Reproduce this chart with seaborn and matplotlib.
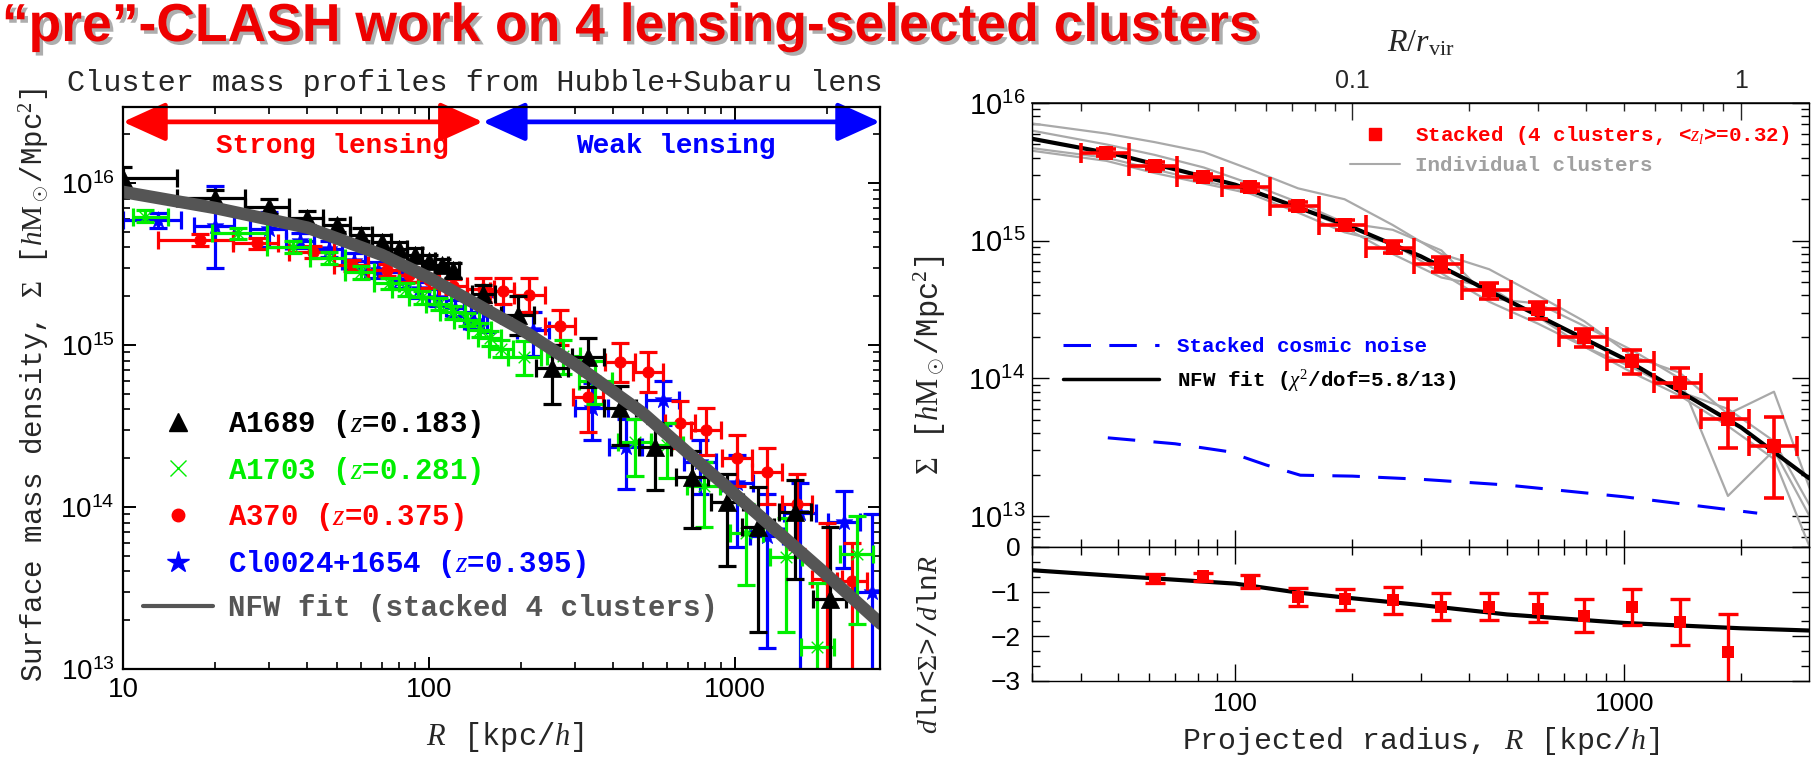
import numpy as np
import matplotlib
matplotlib.use("Agg")
import matplotlib.pyplot as plt
import seaborn as sns
from matplotlib.patches import FancyArrowPatch
from matplotlib.lines import Line2D
import matplotlib.patheffects as pe
from matplotlib.ticker import NullFormatter, LogLocator, MultipleLocator

# ---------------- LEFT PANEL DATA (R [kpc/h], Sigma [h Msun/Mpc^2]) ----------------
a1689_r   = [10, 20, 30, 40, 50, 60, 70, 80, 90, 100, 110, 120, 150, 195, 252, 331, 421, 548, 723, 942, 1190, 1570, 2040]
a1689_s   = [1.07e16, 8.1e15, 7.1e15, 6.1e15, 5.5e15, 4.8e15, 4.3e15, 3.9e15, 3.6e15, 3.3e15, 3.1e15, 2.9e15, 2.05e15,
             1.53e15, 7.2e14, 8.4e14, 4.1e14, 2.35e14, 1.53e14, 1.08e14, 7.5e13, 9.3e13, 2.7e13]
a1689_rlo = [7, 15, 25, 35, 45, 55, 65, 75, 85, 95, 105, 115, 138, 172, 223, 293, 373, 485, 640, 834, 1053, 1390, 1805]
a1689_rhi = [15, 25, 35, 45, 55, 65, 75, 85, 95, 105, 115, 125, 165, 220, 285, 374, 476, 620, 817, 1064, 1345, 1774, 2305]
a1689_slo = [9.2e15, 7.3e15, 6.4e15, 5.5e15, 5.0e15, 4.35e15, 3.9e15, 3.55e15, 3.25e15, 3.0e15, 2.8e15, 2.6e15, 1.75e15,
             1.15e15, 4.3e14, 5.5e14, 2.4e14, 1.28e14, 7.4e13, 4.3e13, 1.7e13, 3.6e13, 5e12]
a1689_shi = [1.25e16, 9.0e15, 7.9e15, 6.7e15, 6.0e15, 5.3e15, 4.75e15, 4.3e15, 3.95e15, 3.6e15, 3.4e15, 3.2e15, 2.35e15,
             2.0e15, 1.0e15, 1.1e15, 5.6e14, 3.3e14, 2.2e14, 1.6e14, 1.33e14, 1.46e14, 7.5e13]

a1703_r   = [11.8, 23.8, 36, 47, 60, 74, 84, 95, 108, 120, 133, 147, 158, 172,
             205, 275, 350, 470, 600, 790, 1090, 1470, 1860, 2500]
a1703_s   = [6.2e15, 4.9e15, 4.0e15, 3.45e15, 2.8e15, 2.4e15, 2.2e15, 1.98e15, 1.8e15, 1.6e15, 1.43e15, 1.24e15, 1.1e15, 9.5e14,
             8.4e14, 8.5e14, 6.0e14, 2.5e14, 2.4e14, 1.35e14, 6.9e13, 4.9e13, 1.37e13, 5.1e13]
a1703_rlo = [10.8, 19.5, 29.5, 41, 53, 66, 76, 86, 98, 109, 121, 134, 145, 157,
             181, 243, 310, 416, 531, 699, 965, 1301, 1646, 2212]
a1703_rhi = [14, 29.5, 41, 53, 66, 80, 92, 104, 118, 131, 146, 160, 172, 188,
             232, 311, 396, 531, 678, 893, 1232, 1661, 2102, 2825]
a1703_slo = [5.7e15, 4.5e15, 3.7e15, 3.15e15, 2.55e15, 2.2e15, 2.0e15, 1.8e15, 1.65e15, 1.45e15, 1.3e15, 1.12e15, 9.8e14, 8.4e14,
             6.5e14, 6.6e14, 4.3e14, 1.55e14, 1.5e14, 7.5e13, 3.3e13, 1.7e13, 5e12, 1.9e13]
a1703_shi = [6.8e15, 5.3e15, 4.35e15, 3.75e15, 3.05e15, 2.6e15, 2.4e15, 2.15e15, 1.95e15, 1.75e15, 1.57e15, 1.37e15, 1.22e15, 1.07e15,
             1.05e15, 1.08e15, 8.0e14, 3.5e14, 3.3e14, 1.9e14, 1.05e14, 8.5e13, 3.4e13, 8.8e13]

a370_r   = [17.9, 27.4, 41.7, 56, 72.8, 86, 100, 120, 150, 174,
            213, 268, 330, 420, 520, 660, 805, 1015, 1270, 1590, 2000, 2420]
a370_s   = [4.45e15, 4.25e15, 3.75e15, 3.1e15, 2.9e15, 2.7e15, 2.5e15, 2.3e15, 2.2e15, 2.15e15,
            2.04e15, 1.3e15, 4.8e14, 7.9e14, 6.8e14, 3.3e14, 3.0e14, 2.0e14, 1.64e14, 1.05e14, 3.6e13, 3.5e13]
a370_rlo = [13, 22.8, 35, 49, 63, 80, 92, 108, 133, 158,
            190, 239, 295, 375, 464, 589, 719, 906, 1134, 1420, 1786, 2160]
a370_rhi = [22.8, 32, 49, 63, 80, 92, 108, 133, 163, 190,
            239, 300, 370, 470, 582, 739, 902, 1137, 1422, 1781, 2240, 2710]
a370_slo = [4.1e15, 3.9e15, 3.45e15, 2.85e15, 2.65e15, 2.45e15, 2.25e15, 2.05e15, 1.85e15, 1.8e15,
            1.6e15, 1.0e15, 2.9e14, 5.9e14, 5.1e14, 2.3e14, 2.1e14, 1.35e14, 1.05e14, 5.5e13, 5e12, 5e12]
a370_shi = [4.85e15, 4.6e15, 4.05e15, 3.35e15, 3.15e15, 2.95e15, 2.75e15, 2.55e15, 2.6e15, 2.6e15,
            2.6e15, 1.65e15, 6.5e14, 1.03e15, 9.0e14, 4.5e14, 4.1e14, 2.8e14, 2.3e14, 1.6e14, 8e13, 6e13]

cl0024_r   = [13, 20, 30, 38, 47, 57, 68, 80, 93, 107, 122, 140,
              155, 219, 340, 440, 580, 770, 1015, 1270, 1630, 2270, 2800]
cl0024_s   = [5.9e15, 5.4e15, 5.2e15, 4.4e15, 3.9e15, 3.3e15, 2.9e15, 2.5e15, 2.2e15, 1.95e15, 1.7e15, 1.4e15,
              1.6e15, 1.24e15, 4.1e14, 2.35e14, 4.6e14, 1.9e14, 1.4e14, 6.6e13, 9.2e13, 8.1e13, 3e13]
cl0024_rlo = [10, 17, 26, 34, 42, 52, 62, 74, 86, 100, 114, 130,
              137, 194, 301, 389, 513, 681, 898, 1124, 1442, 2009, 2478]
cl0024_rhi = [15.5, 23, 34, 42, 52, 62, 74, 86, 100, 114, 130, 150,
              175, 247, 384, 497, 655, 870, 1147, 1435, 1842, 2565, 3164]
cl0024_slo = [5.3e15, 3.0e15, 4.0e15, 3.95e15, 3.5e15, 2.95e15, 2.6e15, 2.25e15, 1.95e15, 1.75e15, 1.5e15, 1.25e15,
              1.2e15, 8.5e14, 2.6e14, 1.3e14, 3.2e14, 1.2e14, 5.7e13, 1.35e13, 5e12, 4.2e13, 5e12]
cl0024_shi = [6.5e15, 9.5e15, 6.6e15, 4.9e15, 4.35e15, 3.7e15, 3.25e15, 2.8e15, 2.45e15, 2.2e15, 1.9e15, 1.6e15,
              2.0e15, 1.6e15, 5.8e14, 3.5e14, 6.0e14, 2.6e14, 2.1e14, 1.2e14, 1.4e14, 1.25e14, 9e13]

# NFW fit to stacked profile (left)
nfw_left_r = [10, 20, 40, 70, 100, 200, 300, 500, 1000, 2000, 3000]
nfw_left_s = [8.8e15, 7.0e15, 5.3e15, 3.6e15, 2.6e15, 1.25e15, 7.6e14, 3.8e14, 1.2e14, 3.8e13, 1.9e13]

# ---------------- RIGHT PANEL DATA ----------------
stack_r   = [46.6, 62.1, 82.6, 109, 145, 191, 254, 339, 450, 600, 790, 1050, 1390, 1850, 2430]
stack_s   = [4.33e15, 3.48e15, 2.9e15, 2.45e15, 1.78e15, 1.3e15, 8.9e14, 6.74e14, 4.36e14, 3.17e14, 2.0e14, 1.33e14, 9.3e13, 5.1e13, 3.25e13]
stack_slo = [4.1e15, 3.3e15, 2.75e15, 2.3e15, 1.68e15, 1.2e15, 8.1e14, 5.9e14, 3.8e14, 2.7e14, 1.68e14, 1.07e14, 7.3e13, 3.1e13, 1.35e13]
stack_shi = [4.6e15, 3.7e15, 3.05e15, 2.6e15, 1.9e15, 1.42e15, 1.0e15, 7.6e14, 4.9e14, 3.6e14, 2.3e14, 1.6e14, 1.18e14, 7.1e13, 5.2e13]
stack_edges = [40.0, 53.2, 70.6, 92.7, 123, 164, 217, 288, 382, 511, 680, 902, 1191, 1580, 2090, 2790]

indiv_r  = [30, 46.6, 62, 83, 109, 145, 191, 254, 339, 450, 600, 790, 1050, 1390, 1850, 2430, 3000]
indiv_1  = [7.1e15, 6.0e15, 5.2e15, 4.4e15, 3.3e15, 2.4e15, 2.0e15, 1.3e15, 8.0e14, 6.2e14, 4.0e14, 2.6e14, 1.45e14, 1.1e14, 5.5e13, 8.0e13, 1.6e13]
indiv_2  = [6.3e15, 5.0e15, 4.2e15, 3.4e15, 2.6e15, 1.9e15, 1.35e15, 1.2e15, 8.5e14, 3.8e14, 3.5e14, 2.4e14, 1.6e14, 1.0e14, 1.4e13, 3.0e13, 1.0e13]
indiv_3  = [4.7e15, 4.0e15, 3.3e15, 2.7e15, 2.3e15, 1.75e15, 1.25e15, 8.0e14, 5.4e14, 4.6e14, 2.8e14, 1.7e14, 1.2e14, 8.0e13, 6.0e13, 3.5e13, 1.2e13]
indiv_4  = [4.5e15, 3.8e15, 3.1e15, 2.6e15, 2.2e15, 1.6e15, 1.15e15, 9.5e14, 5.8e14, 3.6e14, 2.5e14, 1.7e14, 1.1e14, 7.5e13, 4.5e13, 2.6e13, 6e12]

noise_r = [47, 70, 95, 120, 147, 200, 300, 500, 1000, 2200]
noise_s = [3.7e13, 3.35e13, 2.95e13, 2.35e13, 1.98e13, 1.95e13, 1.85e13, 1.68e13, 1.38e13, 1.05e13]

nfw_right_r = [30, 50, 100, 200, 300, 500, 1000, 2000, 3000]
nfw_right_s = [5.5e15, 4.2e15, 2.55e15, 1.25e15, 7.7e14, 3.7e14, 1.39e14, 4.4e13, 1.87e13]

slope_r   = [62.1, 82.6, 109, 145, 191, 254, 339, 450, 600, 790, 1050, 1390, 1850]
slope_v   = [-0.71, -0.66, -0.78, -1.11, -1.17, -1.19, -1.34, -1.34, -1.38, -1.55, -1.34, -1.67, -2.34]
slope_lo  = [-0.80, -0.76, -0.91, -1.32, -1.42, -1.51, -1.64, -1.64, -1.67, -1.90, -1.75, -2.20, -3.2]
slope_hi  = [-0.61, -0.58, -0.63, -0.91, -0.93, -0.90, -1.03, -1.03, -1.03, -1.17, -0.95, -1.16, -1.50]
slope_fit_r = [30, 50, 100, 145, 191, 300, 500, 1000, 2000, 3000]
slope_fit_v = [-0.52, -0.65, -0.82, -1.02, -1.13, -1.30, -1.51, -1.70, -1.82, -1.87]

r_vir = 2000.0  # kpc/h, for the R/r_vir top axis

# ---------------- STYLE ----------------
sns.set_theme(style="ticks")
plt.rcParams.update({
    "mathtext.fontset": "custom",
    "mathtext.rm": "Liberation Serif",
    "mathtext.it": "Liberation Serif:italic",
    "mathtext.bf": "Liberation Serif:bold",
    "mathtext.sf": "Liberation Sans",
    "xtick.direction": "in", "ytick.direction": "in",
    "xtick.top": True, "ytick.right": True,
    "axes.facecolor": "white", "figure.facecolor": "white",
})
plt.rcParams["font.family"] = ["Liberation Mono", "DejaVu Sans"]

MONO = ["Liberation Mono", "DejaVu Sans"]
SANS = ["Liberation Sans", "DejaVu Sans"]
BLACK, GREEN, RED, BLUE = "#000000", "#00ee00", "#ff0000", "#0000ff"
NFWGREY = "#555555"

fig = plt.figure(figsize=(18.12, 7.6), dpi=100)

W, H = 1812.0, 760.0
def fpos(x0, y0, x1, y1):
    return [x0 / W, 1 - y1 / H, (x1 - x0) / W, (y1 - y0) / H]

axL = fig.add_axes(fpos(123, 107, 880, 669))
axT = fig.add_axes(fpos(1032, 103, 1809, 547))
axB = fig.add_axes(fpos(1032, 547, 1809, 681), sharex=axT)

SIGLAB = [r"$\mathsf{10^{13}}$", r"$\mathsf{10^{14}}$", r"$\mathsf{10^{15}}$", r"$\mathsf{10^{16}}$"]

# ---------------- LEFT PANEL ----------------
axL.set_xscale("log"); axL.set_yscale("log")
axL.set_xlim(10, 2980); axL.set_ylim(1e13, 2.94e16)

def draw_cluster(ax, r, s, rlo, rhi, slo, shi, color, marker, size, lw, z):
    r = np.asarray(r, float); s = np.asarray(s, float)
    xe = [r - np.asarray(rlo), np.asarray(rhi) - r]
    ye = [s - np.asarray(slo), np.asarray(shi) - s]
    ax.errorbar(r, s, xerr=xe, yerr=ye, fmt="none", ecolor=color, elinewidth=2.3,
                capsize=6.5, capthick=2.3, zorder=z)
    if marker in ("x", "+"):
        sns.scatterplot(x=r, y=s, ax=ax, marker=marker, color=color, s=size,
                        linewidth=lw, zorder=z + 0.5, legend=False)
    else:
        sns.scatterplot(x=r, y=s, ax=ax, marker=marker, color=color, s=size,
                        edgecolor=color, linewidth=lw, zorder=z + 0.5, legend=False)

draw_cluster(axL, cl0024_r, cl0024_s, cl0024_rlo, cl0024_rhi, cl0024_slo, cl0024_shi, BLUE, "*", 160, 0.5, 2)
draw_cluster(axL, a370_r, a370_s, a370_rlo, a370_rhi, a370_slo, a370_shi, RED, "o", 70, 0.5, 3)
draw_cluster(axL, a1703_r, a1703_s, a1703_rlo, a1703_rhi, a1703_slo, a1703_shi, GREEN, "x", 70, 1.0, 4)
draw_cluster(axL, a1689_r, a1689_s, a1689_rlo, a1689_rhi, a1689_slo, a1689_shi, BLACK, "^", 170, 0.5, 5)

sns.lineplot(x=nfw_left_r, y=nfw_left_s, ax=axL, color=NFWGREY, linewidth=9,
             sort=False, estimator=None, zorder=8, legend=False)

for sp in axL.spines.values():
    sp.set_linewidth(1.6); sp.set_color("black"); sp.set_zorder(20)
axL.tick_params(which="major", length=9, width=1.4, colors="black", labelsize=20, pad=6)
axL.tick_params(which="minor", length=5, width=1.2, colors="black")
axL.set_xticks([10, 100, 1000])
axL.set_xticklabels(["10", "100", "1000"], family=SANS)
axL.set_yticks([1e13, 1e14, 1e15, 1e16])
axL.set_yticklabels(SIGLAB)
axL.xaxis.set_minor_locator(LogLocator(base=10, subs=np.arange(2, 10), numticks=20))
axL.yaxis.set_minor_locator(LogLocator(base=10, subs=np.arange(2, 10), numticks=20))
axL.xaxis.set_minor_formatter(NullFormatter()); axL.yaxis.set_minor_formatter(NullFormatter())
axL.set_xlabel(""); axL.set_ylabel("")

# strong / weak lensing arrows
y_arrow = 10 ** (16 + (183 - 122) / 162.0)
y_lab = 10 ** (16 + (183 - 146) / 162.0)
r_split = 150
for (xa, xb, col) in [(10, r_split, RED), (r_split, 2980, BLUE)]:
    arr = FancyArrowPatch((xa, y_arrow), (xb, y_arrow), arrowstyle="<|-|>,head_length=1.1,head_width=0.5",
                          mutation_scale=24, color=col, lw=3.4, shrinkA=0, shrinkB=0, zorder=12,
                          clip_on=False)
    axL.add_patch(arr)
axL.text(48.2, y_lab, "Strong lensing", color=RED, fontsize=20, fontweight="bold",
         family=MONO, ha="center", va="center", zorder=12)
axL.text(641, y_lab, "Weak lensing", color=BLUE, fontsize=20, fontweight="bold",
         family=MONO, ha="center", va="center", zorder=12)

# legend
hL = [Line2D([], [], ls="none", marker="^", color=BLACK, ms=13),
      Line2D([], [], ls="none", marker="x", color=GREEN, ms=11, mew=1.0),
      Line2D([], [], ls="none", marker="o", color=RED, ms=9),
      Line2D([], [], ls="none", marker="*", color=BLUE, ms=16),
      Line2D([], [], color=NFWGREY, lw=3)]
labL = [r"A1689 ($z$=0.183)", r"A1703 ($z$=0.281)", r"A370 ($z$=0.375)",
        r"Cl0024+1654 ($z$=0.395)", "NFW fit (stacked 4 clusters)"]
legL = axL.legend(hL, labL, loc="upper left", bbox_to_anchor=((143 - 123) / 757.0, (669 - 408) / 562.0),
                  frameon=False, borderpad=0, borderaxespad=0, handlelength=2.4, handletextpad=0.5,
                  labelspacing=0.5, prop={"family": MONO, "weight": "bold", "size": 21},
                  labelcolor=[BLACK, GREEN, RED, BLUE, NFWGREY])
legL.set_zorder(15)

# ---------------- RIGHT TOP PANEL ----------------
axT.set_xscale("log"); axT.set_yscale("log")
axT.set_xlim(30, 2990); axT.set_ylim(5.96e12, 1e16)
for g in (indiv_1, indiv_2, indiv_3, indiv_4):
    sns.lineplot(x=indiv_r, y=g, ax=axT, color="#a9a9a9", linewidth=1.6, sort=False,
                 estimator=None, zorder=2, legend=False)
sns.lineplot(x=noise_r, y=noise_s, ax=axT, color=BLUE, linewidth=2.2, sort=False,
             estimator=None, zorder=3, legend=False)
axT.lines[-1].set_dashes([9, 6])
sns.lineplot(x=nfw_right_r, y=nfw_right_s, ax=axT, color=BLACK, linewidth=3, sort=False,
             estimator=None, zorder=4, legend=False)
sr = np.asarray(stack_r); ss = np.asarray(stack_s)
edges = np.asarray(stack_edges)
axT.errorbar(sr, ss, xerr=[sr - edges[:-1], edges[1:] - sr],
             yerr=[ss - np.asarray(stack_slo), np.asarray(stack_shi) - ss],
             fmt="none", ecolor=RED, elinewidth=2.6, capsize=7, capthick=2.6, zorder=5)
sns.scatterplot(x=sr, y=ss, ax=axT, marker="s", color=RED, s=90, edgecolor=RED, linewidth=0,
                zorder=6, legend=False)

hT1 = [Line2D([], [], ls="none", marker="s", color=RED, ms=8),
       Line2D([], [], color="#a9a9a9", lw=1.5)]
legT1 = axT.legend(hT1, [r"Stacked (4 clusters, <$z_l$>=0.32)", "Individual clusters"],
                   loc="upper left", bbox_to_anchor=((1350 - 1032) / 777.0, (547 - 124) / 444.0),
                   frameon=False, borderpad=0, borderaxespad=0, handlelength=2.4, handletextpad=0.7,
                   labelspacing=0.45, prop={"family": MONO, "weight": "bold", "size": 15},
                   labelcolor=[RED, "#a0a0a0"])
axT.add_artist(legT1)
hT2 = [Line2D([], [], color=BLUE, lw=2.2, dashes=[9, 6]),
       Line2D([], [], color=BLACK, lw=2.5)]
legT2 = axT.legend(hT2, ["Stacked cosmic noise", r"NFW fit ($\chi^2$/dof=5.8/13)"],
                   loc="upper left", bbox_to_anchor=((1063 - 1032) / 777.0, (547 - 337) / 444.0),
                   frameon=False, borderpad=0, borderaxespad=0, handlelength=4.6, handletextpad=0.85,
                   labelspacing=0.55, prop={"family": MONO, "weight": "bold", "size": 15},
                   labelcolor=[BLUE, BLACK])

axT.set_yticks([1e13, 1e14, 1e15, 1e16])
axT.set_yticklabels(SIGLAB)
axT.yaxis.set_minor_locator(LogLocator(base=10, subs=np.arange(2, 10), numticks=20))
axT.yaxis.set_minor_formatter(NullFormatter())
axT.tick_params(axis="x", which="both", top=False, labelbottom=False)
axT.tick_params(which="major", length=12, width=1.0, colors="black", labelsize=21, pad=5)
axT.tick_params(which="minor", length=6, width=1.0, colors="black")
axT.set_xlabel(""); axT.set_ylabel("")

top = axT.secondary_xaxis("top", functions=(lambda r: r / r_vir, lambda q: q * r_vir))
top.set_xticks([0.1, 1])
top.set_xticklabels(["0.1", "1"], family=SANS, fontsize=18)
top.xaxis.set_minor_locator(LogLocator(base=10, subs=np.arange(2, 10), numticks=20))
top.xaxis.set_minor_formatter(NullFormatter())
top.tick_params(which="major", direction="in", length=12, width=1.0, pad=7)
top.tick_params(which="minor", direction="in", length=6, width=1.0)

# ---------------- RIGHT BOTTOM PANEL ----------------
axB.set_ylim(-3, 0)
sns.lineplot(x=slope_fit_r, y=slope_fit_v, ax=axB, color=BLACK, linewidth=3, sort=False,
             estimator=None, zorder=4, legend=False)
sv = np.asarray(slope_v)
axB.errorbar(slope_r, sv, yerr=[sv - np.asarray(slope_lo), np.asarray(slope_hi) - sv],
             fmt="none", ecolor=RED, elinewidth=2.4, capsize=7, capthick=2.4, zorder=5)
sns.scatterplot(x=slope_r, y=sv, ax=axB, marker="s", color=RED, s=70, linewidth=0,
                zorder=6, legend=False)
axB.set_xscale("log")
axB.set_xlim(30, 2990)
axB.set_yticks([0, -1, -2, -3])
axB.set_yticklabels(["0", "\u22121", "\u22122", "\u22123"], family=SANS)
axB.yaxis.set_minor_locator(MultipleLocator(1 / 3.0))
axB.set_xticks([100, 1000])
axB.set_xticklabels(["100", "1000"], family=SANS)
axB.xaxis.set_minor_locator(LogLocator(base=10, subs=np.arange(2, 10), numticks=20))
axB.xaxis.set_minor_formatter(NullFormatter())
axB.tick_params(which="major", length=12, width=1.0, colors="black", labelsize=19, pad=8)
axB.tick_params(which="minor", length=6, width=1.0, colors="black")
axB.set_xlabel(""); axB.set_ylabel("")
for ax in (axT, axB):
    for sp in ax.spines.values():
        sp.set_linewidth(1.0); sp.set_color("black")

# ---------------- FIGURE TEXTS ----------------
fig.text(0.001, 1 - 27 / H, "\u201cpre\u201d-CLASH work on 4 lensing-selected clusters", color="#ee0000",
         fontsize=38.5, fontweight="bold", family=["Liberation Sans", "DejaVu Sans"],
         ha="left", va="center",
         path_effects=[pe.SimplePatchShadow(offset=(2.5, -2.5), shadow_rgbFace="#777777", alpha=0.6), pe.Normal()])
fig.text(67 / W, 1 - 83 / H, "Cluster mass profiles from Hubble+Subaru lens", fontsize=21.7,
         family=MONO, ha="left", va="center")
fig.text(35 / W, 1 - 385 / H, r"Surface mass density, $\Sigma$ [$h\mathrm{M}_\odot$/Mpc$^2$]",
         rotation=90, fontsize=21, family=MONO, ha="center", va="center")
fig.text(505 / W, 1 - 737 / H, r"$R$ [kpc/$h$]", fontsize=22, family=MONO, ha="center", va="center")
fig.text(1421 / W, 1 - 44 / H, r"$R/r_{\rm vir}$", fontsize=23, family=MONO, ha="center", va="center")
fig.text(930 / W, 1 - 365 / H, r"$\Sigma$ [$h\mathrm{M}_\odot$/Mpc$^2$]",
         rotation=90, fontsize=22, family=MONO, ha="center", va="center")
fig.text(930 / W, 1 - 645 / H, r"$d$ln<$\Sigma$>/$d$ln$R$",
         rotation=90, fontsize=20, family=MONO, ha="center", va="center")
fig.text(1421 / W, 1 - 741 / H, r"Projected radius, $R$ [kpc/$h$]", fontsize=21.5, family=MONO,
         ha="center", va="center")

fig.savefig("out.png", dpi=100)
